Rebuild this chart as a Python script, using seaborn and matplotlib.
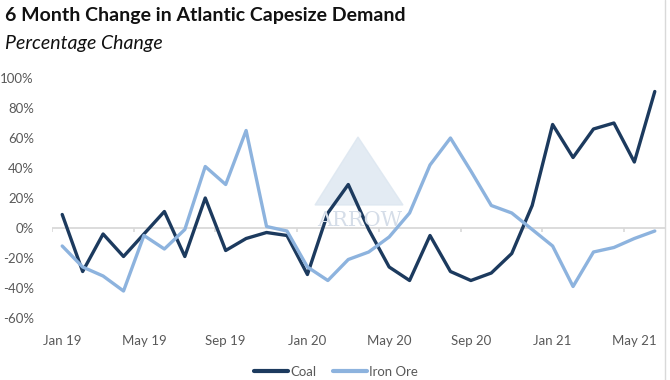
import numpy as np
import pandas as pd
import matplotlib.pyplot as plt
import seaborn as sns
from matplotlib.lines import Line2D
from matplotlib.patches import Polygon

# Data (6 month % change)
months = ['Jan 19', 'Feb 19', 'Mar 19', 'Apr 19', 'May 19', 'Jun 19', 'Jul 19', 'Aug 19',
          'Sep 19', 'Oct 19', 'Nov 19', 'Dec 19', 'Jan 20', 'Feb 20', 'Mar 20', 'Apr 20',
          'May 20', 'Jun 20', 'Jul 20', 'Aug 20', 'Sep 20', 'Oct 20', 'Nov 20', 'Dec 20',
          'Jan 21', 'Feb 21', 'Mar 21', 'Apr 21', 'May 21', 'Jun 21']
coal = [9, -29, -4, -19, -4, 11, -19, 20, -15, -7, -3, -5,
        -31, 10, 29, -1, -26, -35, -5, -29, -35, -30, -17, 15,
        69, 47, 66, 70, 44, 91]
iron_ore = [-12, -26, -32, -42, -5, -14, -1, 41, 29, 65, 1, -2,
            -26, -35, -21, -16, -6, 10, 42, 60, 38, 15, 10, -1,
            -12, -39, -16, -13, -7, -2]
yticks = [-60, -40, -20, 0, 20, 40, 60, 80, 100]

df = pd.DataFrame({'idx': list(range(len(months))) * 2,
                   'value': coal + iron_ore,
                   'series': ['Coal'] * len(coal) + ['Iron Ore'] * len(iron_ore)})

sns.set_style('white')
plt.rcParams['font.family'] = ['Lato', 'DejaVu Sans']

fig = plt.figure(figsize=(6.7, 3.8), dpi=100)
ax = fig.add_axes([52 / 670, 62 / 380, 613 / 670, 240 / 380])

# watermark
fig.add_artist(Polygon([[315 / 670, 1 - 205 / 380], [358 / 670, 1 - 137 / 380], [403 / 670, 1 - 205 / 380]],
                       closed=True, transform=fig.transFigure, color='#dce6f0', alpha=0.8, zorder=0))
fig.text(360 / 670, 1 - 220 / 380, 'ARROW', family='serif', fontsize=15, color='#d5dde8',
         ha='center', va='center', zorder=0)

ax.axhline(0, color='#d9d9d9', lw=1.3, zorder=1)
ax.vlines(np.arange(-0.5, len(months), 4), -2.5, 0, color='#d9d9d9', lw=1.2, zorder=1)

sns.lineplot(data=df, x='idx', y='value', hue='series', ax=ax,
             palette={'Coal': '#1c3a5e', 'Iron Ore': '#8db3de'}, lw=2.4, legend=False, zorder=3)

ax.set_xlim(-0.5, len(months) - 0.5)
ax.set_ylim(-60, 100)
ax.set_yticks(yticks)
ax.set_yticklabels([f'{v}%' for v in yticks])
ax.set_xticks(range(0, len(months), 4))
ax.set_xticklabels(months[::4])
ax.tick_params(axis='both', length=0, labelsize=9.5, labelcolor='#595959')
ax.tick_params(axis='y', pad=13)
ax.tick_params(axis='x', pad=12)
ax.set_xlabel('')
ax.set_ylabel('')
for s in ax.spines.values():
    s.set_visible(False)
ax.patch.set_alpha(0)

fig.text(5 / 670, 1 - 15 / 380, '6 Month Change in Atlantic Capesize Demand',
         fontsize=14, fontweight='bold', color='#111111', va='center', ha='left')
fig.text(5 / 670, 1 - 43 / 380, 'Percentage Change', fontsize=14, style='italic',
         color='#111111', va='center', ha='left')

handles = [Line2D([], [], color='#1c3a5e', lw=3), Line2D([], [], color='#8db3de', lw=3)]
fig.legend(handles, ['Coal', 'Iron Ore'], loc='center', bbox_to_anchor=(336 / 670, 8 / 380),
           ncol=2, frameon=False, fontsize=9.5, handlelength=2.6, handletextpad=0.2,
           columnspacing=1.2, labelcolor='#595959', borderpad=0.1)

fig.add_artist(Line2D([665 / 670, 665 / 670], [0, 1], color='#d9d9d9', lw=1))

fig.savefig('out.png', dpi=100)
